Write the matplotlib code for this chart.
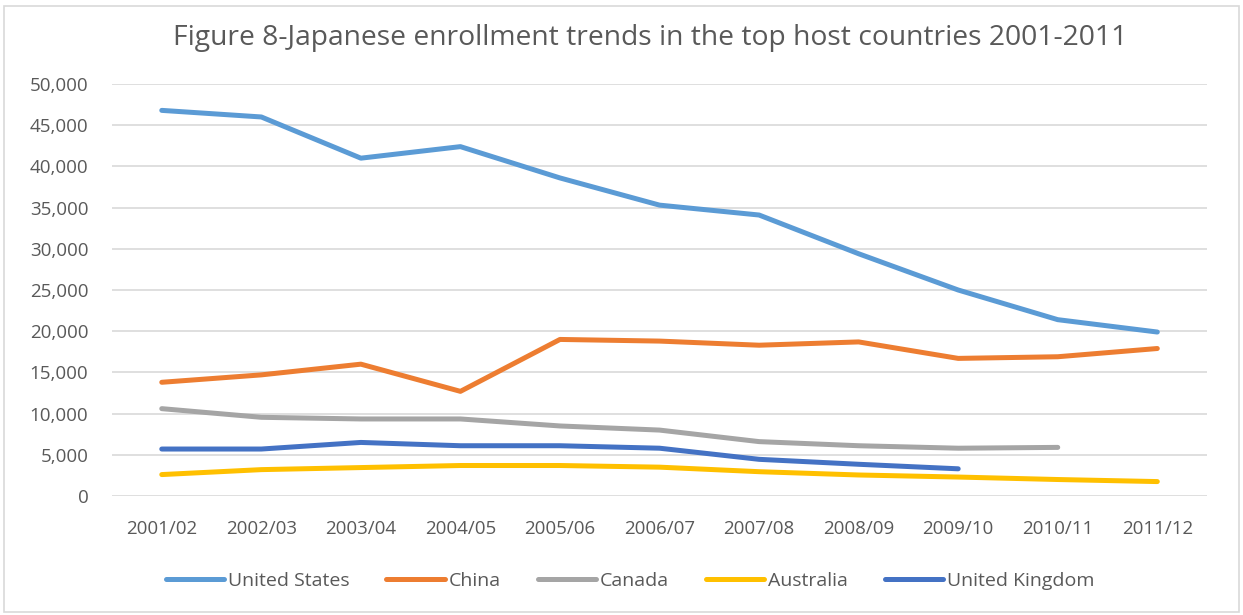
import matplotlib.pyplot as plt
from matplotlib.patches import Rectangle
from matplotlib.ticker import FuncFormatter

YEARS = ['2001/02', '2002/03', '2003/04', '2004/05', '2005/06', '2006/07',
         '2007/08', '2008/09', '2009/10', '2010/11', '2011/12']

united_states = [46800, 46000, 41000, 42400, 38600, 35300, 34100, 29400, 25000, 21400, 19900]
china = [13800, 14700, 16000, 12700, 19000, 18800, 18300, 18700, 16700, 16900, 17900]
canada = [10600, 9550, 9350, 9350, 8500, 8000, 6600, 6100, 5800, 5900]
australia = [2600, 3200, 3450, 3700, 3700, 3500, 2950, 2550, 2300, 2000, 1750]
united_kingdom = [5700, 5700, 6500, 6100, 6100, 5800, 4450, 3850, 3300]

SERIES = [
    ('United States', united_states, '#5B9BD5'),
    ('China', china, '#ED7D31'),
    ('Canada', canada, '#A5A5A5'),
    ('Australia', australia, '#FFC000'),
    ('United Kingdom', united_kingdom, '#4472C4'),
]

plt.rcParams['font.family'] = ['Open Sans', 'DejaVu Sans']
text_col = '#595959'

fig = plt.figure(figsize=(12.43, 6.15), dpi=100)
ax = fig.add_axes([0.0901, 0.1935, 0.8810, 0.6699])

for name, vals, col in SERIES:
    ax.plot(range(len(vals)), vals, color=col, lw=3.6, label=name,
            solid_capstyle='round', solid_joinstyle='round')

ax.set_xlim(-0.5, len(YEARS) - 0.5)
ax.set_ylim(0, 50000)
ax.set_yticks(range(0, 50001, 5000))
ax.yaxis.set_major_formatter(FuncFormatter(lambda v, p: f'{int(v):,}'))
ax.set_xticks(range(len(YEARS)))
ax.set_xticklabels(YEARS)
ax.grid(axis='y', color='#D9D9D9', lw=1.2)
ax.set_axisbelow(True)
for s in ax.spines.values():
    s.set_visible(False)
ax.tick_params(length=0, labelsize=13.5, labelcolor=text_col)
ax.tick_params(axis='x', pad=17)
ax.tick_params(axis='y', pad=17)

fig.text(0.523, 0.938, 'Figure 8-Japanese enrollment trends in the top host countries 2001-2011',
         ha='center', va='center', fontsize=20.3, color=text_col)

leg = fig.legend(loc='center', bbox_to_anchor=(0.507, 0.056), ncol=5, frameon=False,
                 fontsize=14, handlelength=3.0, handletextpad=0.2, columnspacing=1.9)
for t in leg.get_texts():
    t.set_color(text_col)

# thin frame around the whole chart
fig.patches.append(Rectangle((0.003, 0.005), 0.994, 0.985, transform=fig.transFigure,
                             fill=False, edgecolor='#D9D9D9', lw=1.2))

fig.savefig('out.png', dpi=100)
